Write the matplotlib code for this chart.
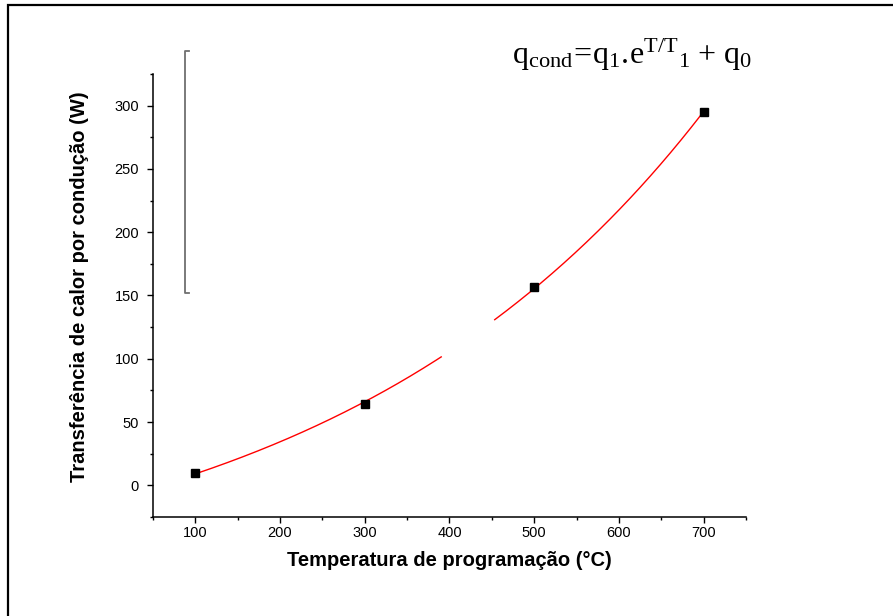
import matplotlib
matplotlib.use("Agg")
import matplotlib.pyplot as plt
import numpy as np
from matplotlib.lines import Line2D
from matplotlib.patches import Rectangle
from matplotlib.ticker import MultipleLocator

# data
temperature = [100, 300, 500, 700]
heat_cond = [10, 64, 157, 295]

# the fitted curve is hidden between these temperatures in the original
gap_lo, gap_hi = 391, 452

plt.rcParams['font.family'] = ['Liberation Sans', 'DejaVu Sans']
plt.rcParams['mathtext.fontset'] = 'custom'
plt.rcParams['mathtext.rm'] = 'Liberation Serif'
plt.rcParams['mathtext.it'] = 'Liberation Serif:italic'

# exponential fit q = q1*exp(T/T1) + q0 (grid over T1, least squares for q1, q0)
T = np.array(temperature, float)
q = np.array(heat_cond, float)
best = None
for t1 in np.linspace(100, 2000, 3801):
    M = np.column_stack([np.exp(T / t1), np.ones_like(T)])
    coef, *_ = np.linalg.lstsq(M, q, rcond=None)
    err = np.sum((M @ coef - q) ** 2)
    if best is None or err < best[0]:
        best = (err, t1, coef)
_, T1, (q1, q0) = best

tt = np.linspace(100, 700, 400)
qq = q1 * np.exp(tt / T1) + q0
qq[(tt > gap_lo) & (tt < gap_hi)] = np.nan

fig = plt.figure(figsize=(8.93, 6.16), dpi=100)
ax = fig.add_axes([0.1713, 0.1607, 0.6641, 0.7192])

ax.plot(tt, qq, color='red', lw=1.0, zorder=2)
ax.plot(temperature, heat_cond, 's', color='black', ms=6, zorder=3)

ax.set_xlim(50, 750)
ax.set_ylim(-25, 325)
ax.xaxis.set_major_locator(MultipleLocator(100))
ax.xaxis.set_minor_locator(MultipleLocator(50))
ax.yaxis.set_major_locator(MultipleLocator(50))
ax.yaxis.set_minor_locator(MultipleLocator(25))
for s in ['top', 'right']:
    ax.spines[s].set_visible(False)
for s in ['left', 'bottom']:
    ax.spines[s].set_linewidth(1.1)
ax.tick_params(which='major', direction='out', length=4, width=1.0, labelsize=10.5)
ax.tick_params(axis='y', pad=6)
ax.tick_params(axis='x', pad=2.5)
ax.tick_params(which='minor', direction='out', length=2.5, width=1.0)

ax.set_xlabel('Temperatura de programação (°C)', fontsize=14.5, fontweight='bold')
ax.set_ylabel('Transferência de calor por condução (W)', fontsize=14.5, fontweight='bold')
ax.xaxis.set_label_coords(0.5, -0.077)
ax.yaxis.set_label_coords(-0.108, 0.519)

# equation
fig.text(0.573, 0.896, r'$\mathrm{q_{cond}\!=\!q_1{.}\!e^{T/T}{}_1\ {+}\ q_0}$', fontsize=23)

# leftover legend bracket
bx, by0, by1, tick = 0.2072, 0.5244, 0.9172, 0.005
fig.add_artist(Line2D([bx + tick, bx, bx, bx + tick], [by1, by1, by0, by0],
                      color='#707070', lw=1.3))

# frame around the figure
fig.add_artist(Rectangle((8 / 893, -0.1), 1.2, 1.1 - 5 / 616,
                         fill=False, edgecolor='black', lw=1.6,
                         transform=fig.transFigure))

fig.savefig('out.png', dpi=100)
